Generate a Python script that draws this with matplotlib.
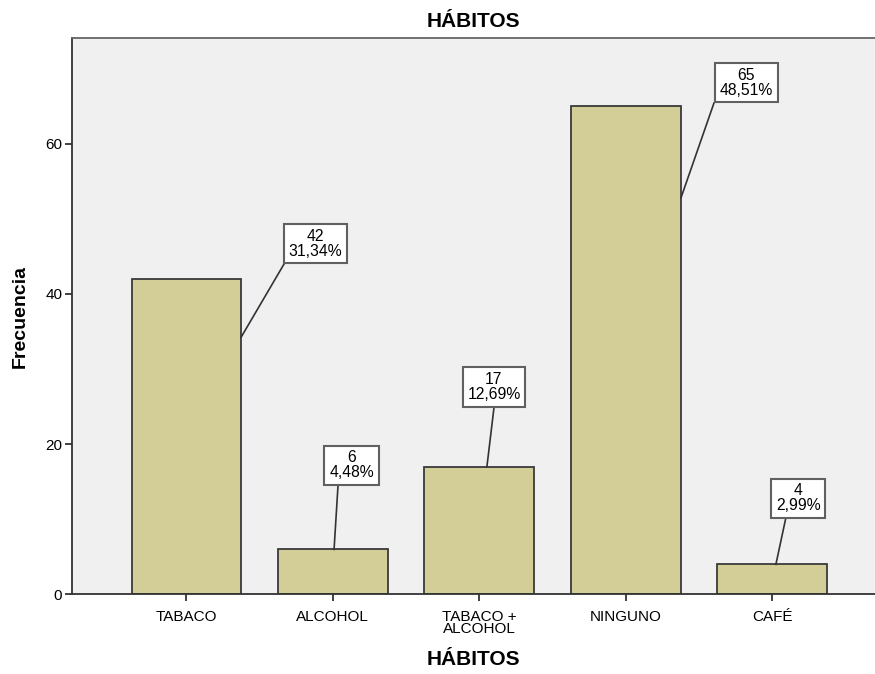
import matplotlib.pyplot as plt

categorias = ['TABACO', 'ALCOHOL', 'TABACO +\nALCOHOL', 'NINGUNO', 'CAFÉ']
frecuencias = [42, 6, 17, 65, 4]
porcentajes = ['31,34%', '4,48%', '12,69%', '48,51%', '2,99%']
yticks = [0, 20, 40, 60]

# callout layout (data coords): line start, line end, box centre
inicio = [(0.372, 34.2), (1.008, 6.0), (2.052, 17.0), (3.378, 52.8), (4.026, 4.0)]
fin = [(0.667, 44.0), (1.035, 14.5), (2.100, 24.8), (3.603, 65.4), (4.094, 10.2)]
caja = [(0.881, 46.7), (1.127, 17.2), (2.100, 27.6), (3.825, 68.1), (4.180, 12.8)]

plt.rcParams['font.family'] = ['Liberation Sans', 'DejaVu Sans']

fig = plt.figure(figsize=(8.75, 6.74), dpi=100)
ax = fig.add_axes([0.0823, 0.118, 0.9177, 0.825])
ax.set_facecolor('#f0f0f0')

x = list(range(len(categorias)))
ax.bar(x, frecuencias, width=0.75, color='#d3ce97', edgecolor='#3a3a3a', linewidth=1.3, zorder=2)

for i in x:
    ax.plot([inicio[i][0], fin[i][0]], [inicio[i][1], fin[i][1]], color='#333333', lw=1.2, zorder=3)
    ax.text(caja[i][0], caja[i][1], '%d\n%s' % (frecuencias[i], porcentajes[i]),
            ha='center', va='center', fontsize=11.3, linespacing=1.0, zorder=4,
            bbox=dict(boxstyle='square,pad=0.3', fc='white', ec='#606060', lw=1.5))

ax.set_xlim(-0.782, 4.703)
ax.set_ylim(0, 74)
ax.set_xticks(x)
ax.set_xticklabels(categorias, fontsize=11, linespacing=0.85)
ax.set_yticks(yticks)
ax.tick_params(axis='both', direction='out', length=5, width=1.3, colors='#333333', labelsize=11, labelcolor='black')
ax.tick_params(axis='y', pad=2)
ax.tick_params(axis='x', pad=6)

for s in ['left', 'bottom']:
    ax.spines[s].set_color('#333333')
    ax.spines[s].set_linewidth(1.3)
ax.spines['top'].set_color('#666666')
ax.spines['top'].set_linewidth(1.3)
ax.spines['right'].set_visible(False)

ax.set_title('HÁBITOS', fontsize=15, fontweight='bold', pad=8)
ax.set_xlabel('HÁBITOS', fontsize=15, fontweight='bold', labelpad=10)
ax.set_ylabel('Frecuencia', fontsize=14, fontweight='bold', labelpad=12)

fig.savefig('out.png', dpi=100)
